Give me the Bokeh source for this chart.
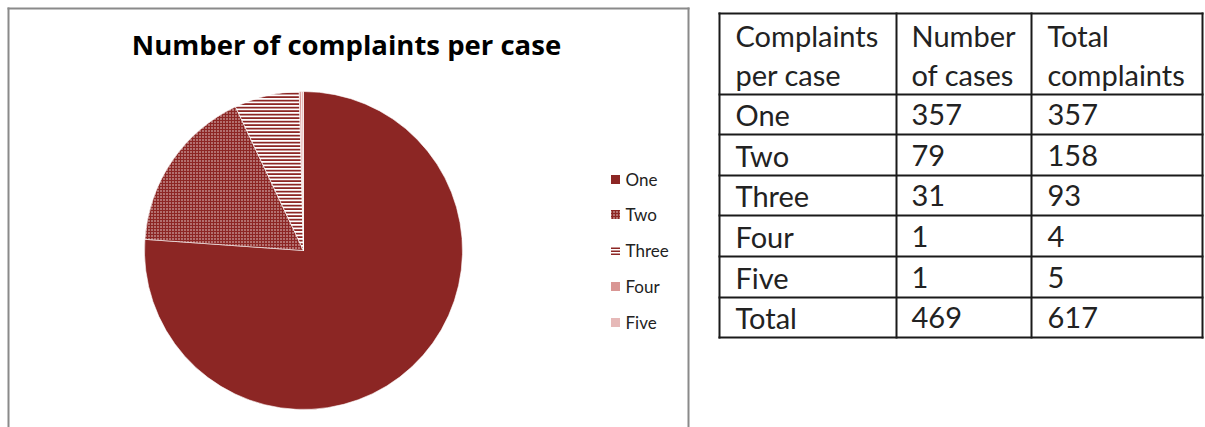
import math
from bokeh.plotting import figure
from bokeh.models import Range1d
from bokeh.core.properties import value
from bokeh.embed import file_html
from bokeh.resources import INLINE

# ---- data ----
title = "Number of complaints per case"
categories = ["One", "Two", "Three", "Four", "Five"]
cases = [357, 79, 31, 1, 1]
total_complaints = [357, 158, 93, 4, 5]
header_col1 = ["Complaints", "per case"]
header_col2 = ["Number", "of cases"]
header_col3 = ["Total", "complaints"]
total_label = "Total"

FONT = "Lato"
DARK = "#8C2624"

W, H = 1205, 427
def Y(iy):
    return H - iy

p = figure(width=W, height=H, x_range=Range1d(0, W), y_range=Range1d(0, H),
           output_backend="svg", toolbar_location=None, x_axis_type=None, y_axis_type=None,
           min_border=0, outline_line_color=None, background_fill_color="white")
p.grid.visible = False

# chart frame
p.segment(x0=[8, 7, 688], y0=[Y(7), Y(8), Y(7)], x1=[8, 689, 688], y1=[Y(440), Y(8), Y(440)],
          line_color="#8a8a8a", line_width=2)

# title
p.text(x=[346], y=[Y(44)], text=[title], text_font=value("Open Sans"), text_font_style="bold",
       text_font_size="27.5px", text_align="center", text_baseline="middle", text_color="black")

styles = [
    dict(fill_color=DARK),
    dict(fill_color=DARK, hatch_pattern="dot", hatch_color="white", hatch_scale=3, hatch_weight=1, hatch_alpha=0.85),
    dict(fill_color="white", hatch_pattern="horizontal_line", hatch_color=DARK, hatch_scale=3.5, hatch_weight=2),
    dict(fill_color="#D99694"),
    dict(fill_color="#E6B9B8"),
]

tot = sum(cases)
cum = 0
for i, v in enumerate(cases):
    s = math.pi / 2 - 2 * math.pi * cum / tot
    cum += v
    e = math.pi / 2 - 2 * math.pi * cum / tot
    p.wedge(x=303, y=Y(250), radius=159, start_angle=s, end_angle=e, direction="clock",
            line_color="white", line_width=0.6, **styles[i])

# legend
leg_y = [179, 214, 250, 286, 322]
for i, c in enumerate(categories):
    st = dict(styles[i])
    if "hatch_scale" in st:
        st["hatch_scale"] = 3
    p.rect(x=615, y=Y(leg_y[i]), width=9, height=9, line_color=None, **st)
p.text(x=[625] * len(categories), y=[Y(v) for v in leg_y], text=categories, text_font=value(FONT),
       text_font_size="17px", text_baseline="middle", text_color="#222222")

# table
col_x = [719, 896, 1031, 1202]
row_y = [13, 94, 134, 175, 215, 256, 297, 337]
p.segment(x0=col_x, y0=[Y(row_y[0] - 1)] * 4, x1=col_x, y1=[Y(row_y[-1] + 1)] * 4, line_color="#1a1a1a", line_width=2)
p.segment(x0=[col_x[0] - 1] * len(row_y), y0=[Y(r) for r in row_y], x1=[col_x[-1] + 1] * len(row_y),
          y1=[Y(r) for r in row_y], line_color="#1a1a1a", line_width=2)

tx = [735, 911, 1047]
hdr_mid = [35, 74]
hdr = [header_col1, header_col2, header_col3]
xs, ys, ts = [], [], []
for c in range(3):
    for l in range(2):
        xs.append(tx[c]); ys.append(Y(hdr_mid[l])); ts.append(hdr[c][l])
rows = [[categories[i], str(cases[i]), str(total_complaints[i])] for i in range(len(categories))]
rows.append([total_label, str(sum(cases)), str(sum(total_complaints))])
for r, row in enumerate(rows):
    mid = (row_y[r + 1] + row_y[r + 2]) / 2
    for c in range(3):
        xs.append(tx[c]); ys.append(Y(mid)); ts.append(row[c])
p.text(x=xs, y=ys, text=ts, text_font=value(FONT), text_font_size="29px",
       text_baseline="middle", text_color="#222222")

open("out.html", "w").write(file_html(p, INLINE))
